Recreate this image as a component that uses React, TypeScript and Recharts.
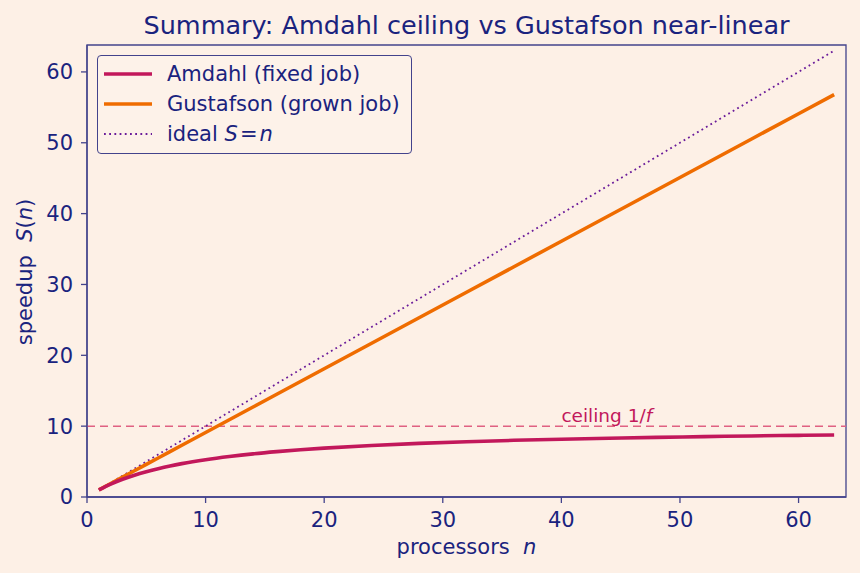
import React from 'react';
import {
  LineChart,
  Line,
  XAxis,
  YAxis,
  ReferenceLine,
  ReferenceArea,
} from 'recharts';

// processor counts sampled along the x axis
const processors = [1, 2, 3, 4, 5, 6, 7, 8, 10, 12, 14, 16, 18, 20, 24, 28, 32, 36, 40, 44, 48, 52, 56, 60, 63];
// Amdahl speedup, fixed job (levels off under the ceiling)
const amdahl = [1.0, 1.82, 2.5, 3.08, 3.57, 4.0, 4.38, 4.71, 5.26, 5.71, 6.09, 6.4, 6.67, 6.9, 7.27, 7.57, 7.8, 8.0, 8.16, 8.3, 8.42, 8.52, 8.62, 8.7, 8.75];
// Gustafson speedup, grown job
const gustafson = [1.0, 1.9, 2.8, 3.7, 4.6, 5.5, 6.4, 7.3, 9.1, 10.9, 12.7, 14.5, 16.3, 18.1, 21.7, 25.3, 28.9, 32.5, 36.1, 39.7, 43.3, 46.9, 50.5, 54.1, 56.8];
// ideal S = n
const ideal = [1, 2, 3, 4, 5, 6, 7, 8, 10, 12, 14, 16, 18, 20, 24, 28, 32, 36, 40, 44, 48, 52, 56, 60, 63];

const xTicks = [0, 10, 20, 30, 40, 50, 60];
const yTicks = [0, 10, 20, 30, 40, 50, 60];
const ceiling = 10;
const ceilingLabelAt = 40;
const xMax = 64;
const yMax = 63.8;

const data = processors.map((n, i) => ({
  n,
  amdahl: amdahl[i],
  gustafson: gustafson[i],
  ideal: ideal[i],
}));

const BG = '#fdf0e6';
const INK = '#1a237e';
const SPINE = '#43438c';
const C_AMDAHL = '#c2185b';
const C_GUST = '#ef6c00';
const C_IDEAL = '#6a1b9a';
const C_CEIL = '#e06182';
const FONT = '"DejaVu Sans", sans-serif';

const tickStyle = { fill: INK, fontSize: 21, fontFamily: FONT };

const CeilingLabel = (props: any) => {
  const { viewBox } = props;
  const x = viewBox.x + (ceilingLabelAt / xMax) * viewBox.width;
  return (
    <text x={x} y={viewBox.y - 4} fill={C_AMDAHL} fontSize={18.5} fontFamily={FONT}>
      ceiling 1/<tspan fontStyle="italic">f</tspan>
    </text>
  );
};

const LegendRow = ({ color, dash, width, children }: any) => (
  <div style={{ display: 'flex', alignItems: 'center', height: 30 }}>
    <svg width={48} height={10} style={{ marginRight: 15 }}>
      <line x1={0} y1={5} x2={48} y2={5} stroke={color} strokeWidth={width} strokeDasharray={dash} />
    </svg>
    <span>{children}</span>
  </div>
);

export default function App() {
  return (
    <div
      style={{
        position: 'absolute',
        left: 0,
        top: 0,
        width: 860,
        height: 573,
        background: BG,
        fontFamily: FONT,
        color: INK,
      }}
    >
      <div
        style={{
          position: 'absolute',
          top: 10,
          left: 87,
          width: 759,
          textAlign: 'center',
          fontSize: 25.5,
          whiteSpace: 'nowrap',
        }}
      >
        Summary: Amdahl ceiling vs Gustafson near-linear
      </div>

      <LineChart width={860} height={573} data={data} margin={{ top: 45, right: 14, left: 0, bottom: 0 }}>
        <XAxis
          dataKey="n"
          type="number"
          domain={[0, xMax]}
          ticks={xTicks}
          allowDataOverflow
          height={76}
          tick={tickStyle}
          tickSize={6}
          tickMargin={9}
          axisLine={{ stroke: SPINE, strokeWidth: 1.3 }}
          tickLine={{ stroke: SPINE, strokeWidth: 1.3 }}
        />
        <YAxis
          type="number"
          domain={[0, yMax]}
          ticks={yTicks}
          allowDataOverflow
          width={87}
          tick={tickStyle}
          tickSize={6}
          tickMargin={8}
          axisLine={{ stroke: SPINE, strokeWidth: 1.3 }}
          tickLine={{ stroke: SPINE, strokeWidth: 1.3 }}
        />
        <ReferenceArea x1={0} x2={xMax} y1={0} y2={yMax} fill="none" stroke={SPINE} strokeWidth={1.3} />
        <ReferenceLine
          y={ceiling}
          stroke={C_CEIL}
          strokeWidth={1.5}
          strokeDasharray="8 5"
          label={<CeilingLabel />}
        />
        <Line
          dataKey="ideal"
          type="linear"
          stroke={C_IDEAL}
          strokeWidth={1.8}
          strokeDasharray="1.8 3.4"
          dot={false}
          isAnimationActive={false}
        />
        <Line
          dataKey="gustafson"
          type="linear"
          stroke={C_GUST}
          strokeWidth={3.6}
          dot={false}
          isAnimationActive={false}
        />
        <Line
          dataKey="amdahl"
          type="monotone"
          stroke={C_AMDAHL}
          strokeWidth={3.6}
          dot={false}
          isAnimationActive={false}
        />
      </LineChart>

      {/* axis titles */}
      <div style={{ position: 'absolute', top: 535, left: 87, width: 759, textAlign: 'center', fontSize: 21 }}>
        processors&nbsp;&nbsp;<i>n</i>
      </div>
      <div
        style={{
          position: 'absolute',
          left: 25,
          top: 272,
          transform: 'translate(-50%, -50%) rotate(-90deg)',
          whiteSpace: 'nowrap',
          fontSize: 21,
        }}
      >
        speedup&nbsp;&nbsp;<i>S</i>(<i>n</i>)
      </div>

      {/* legend */}
      <div
        style={{
          position: 'absolute',
          left: 97,
          top: 55,
          width: 315,
          height: 99,
          boxSizing: 'border-box',
          border: `1.3px solid ${SPINE}`,
          borderRadius: 4,
          background: 'rgba(253, 242, 233, 0.85)',
          padding: '3px 6px',
          fontSize: 21,
          whiteSpace: 'nowrap',
        }}
      >
        <LegendRow color={C_AMDAHL} width={3.6}>Amdahl (fixed job)</LegendRow>
        <LegendRow color={C_GUST} width={3.6}>Gustafson (grown job)</LegendRow>
        <LegendRow color={C_IDEAL} width={1.8} dash="1.8 3.4">
          ideal <i>S</i>&#8202;=&#8202;<i>n</i>
        </LegendRow>
      </div>
    </div>
  );
}
